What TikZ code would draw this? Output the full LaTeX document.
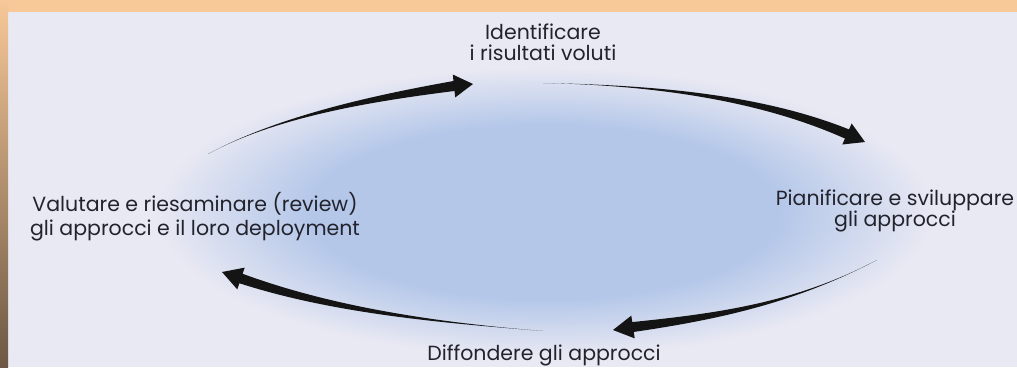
\documentclass[tikz,border=0pt]{standalone}
\usepackage{fontspec}
\setmainfont{Poppins}
\usetikzlibrary{calc}
\definecolor{bg}{RGB}{233,233,243}
\definecolor{glow}{RGB}{180,199,233}
\definecolor{peach}{RGB}{247,200,152}
\definecolor{brownb}{RGB}{108,88,68}
\definecolor{ink}{RGB}{35,35,45}
\pgfdeclareradialshading{glowshade}{\pgfpoint{0bp}{0bp}}{color(0bp)=(glow); color(15bp)=(glow); color(25bp)=(bg); color(50bp)=(bg)}
\newcommand\taperarrow[5]{% tail, c1, c2, base, tip
  \fill[arrowfill] (#1) .. controls (#2) and ($(#3)!3pt!90:(#4)$) .. ($(#4)!5pt!90:(#5)$)
    -- ($(#4)!11.5pt!90:(#5)$) -- (#5) -- ($(#4)!11.5pt!-90:(#5)$) -- ($(#4)!5pt!-90:(#5)$)
    .. controls ($(#3)!3pt!-90:(#4)$) and (#2) .. (#1) -- cycle;}
\tikzset{
  lbl/.style={text=ink, align=center, inner sep=0pt, anchor=north, font=\fontsize{20.5}{21}\selectfont},
  arrowfill/.style={fill=black!92}
}
\begin{document}
\begin{tikzpicture}[x=1pt,y=-1pt]
\useasboundingbox (0,0) rectangle (1017,367);
\clip (0,0) rectangle (1017,367);
\fill[bg] (0,0) rectangle (1017,367);
\shade[shading=glowshade] (545,212) ellipse [x radius=390, y radius=145];
\fill[peach] (0,0) rectangle (1017,12);
\shade[top color=peach, bottom color=brownb] (0,0) rectangle (8,367);
% labels
\node[lbl] (id) at (543,24) {Identificare\\i risultati voluti};
\node[lbl, font=\fontsize{20.5}{24}\selectfont] (val) at (195,192) {Valutare e riesaminare (review)\\gli approcci e il loro deployment};
\node[lbl] (pia) at (895,190) {Pianificare e sviluppare\\gli approcci};
\node[lbl] (dif) at (544,345) {Diffondere gli approcci};
% arrow 1
\coordinate (a1t) at (208,154); \coordinate (a1c) at (278,116); \coordinate (a1d) at (375,98);
\coordinate (a1b) at (454,86); \coordinate (a1p) at (473,84);
\taperarrow{a1t}{a1c}{a1d}{a1b}{a1p}
% arrow 2
\coordinate (a2t) at (543,83); \coordinate (a2c) at (643,85); \coordinate (a2d) at (755,95);
\coordinate (a2b) at (847,134); \coordinate (a2p) at (865,142);
\taperarrow{a2t}{a2c}{a2d}{a2b}{a2p}
% arrow 3
\coordinate (a3t) at (877,260); \coordinate (a3c) at (797,302); \coordinate (a3d) at (722,316);
\coordinate (a3b) at (633,327); \coordinate (a3p) at (613,330);
\taperarrow{a3t}{a3c}{a3d}{a3b}{a3p}
% arrow 4
\coordinate (a4t) at (543,331); \coordinate (a4c) at (443,323); \coordinate (a4d) at (335,311);
\coordinate (a4b) at (241,278.5); \coordinate (a4p) at (222,272);
\taperarrow{a4t}{a4c}{a4d}{a4b}{a4p}
\end{tikzpicture}
\end{document}
